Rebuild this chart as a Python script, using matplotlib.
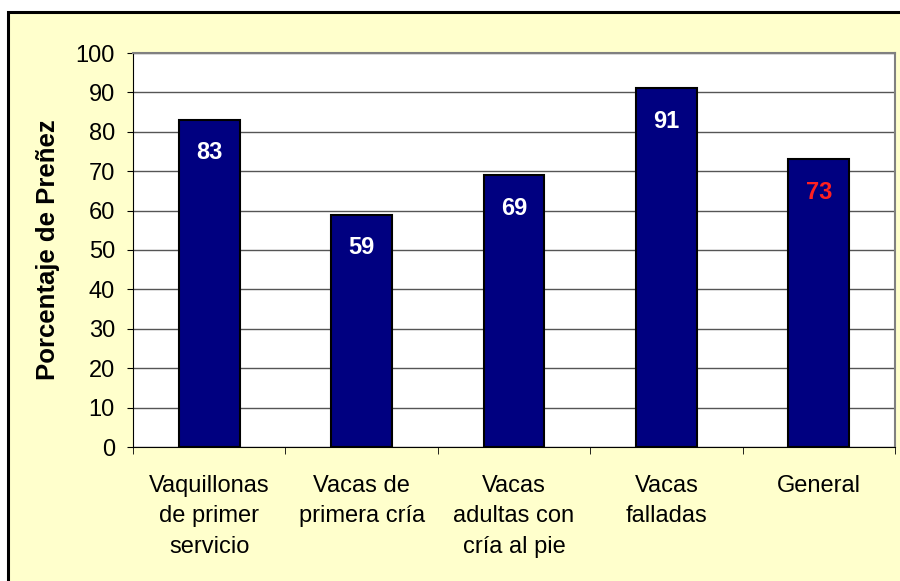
import matplotlib.pyplot as plt
from matplotlib.patches import Rectangle

plt.rcParams['font.family'] = ['Liberation Sans', 'DejaVu Sans']

categorias = ["Vaquillonas\nde primer\nservicio", "Vacas de\nprimera cría",
              "Vacas\nadultas con\ncría al pie", "Vacas\nfalladas", "General"]
prenez = [83, 59, 69, 91, 73]
colores_etiqueta = ["white", "white", "white", "white", "#FF2020"]

fig = plt.figure(figsize=(9, 5.81), dpi=100)
fig.patch.set_facecolor("white")
# fondo amarillo del area del grafico con borde negro
fondo = Rectangle((8 / 900, -0.01), 1.0, 1 - 12 / 581 + 0.01,
                  transform=fig.transFigure, facecolor="#FFFFCC",
                  edgecolor="black", linewidth=2.2, zorder=-10)
fig.add_artist(fondo)

ax = fig.add_axes([133 / 900, 1 - 447 / 581, 762 / 900, 394 / 581])
ax.set_zorder(1)
ax.set_facecolor("white")

x = range(len(categorias))
ax.bar(x, prenez, width=0.4, color="#000080", edgecolor="black", linewidth=1.5, zorder=3)

for i, v in enumerate(prenez):
    ax.annotate(str(v), (i, v), xytext=(0, -33), textcoords="offset pixels",
                ha="center", va="center", color=colores_etiqueta[i],
                fontsize=17, fontweight="bold", zorder=4)

ax.set_ylim(0, 100)
ax.set_xlim(-0.5, len(categorias) - 0.5)
ax.set_yticks(range(0, 101, 10))
ax.tick_params(axis="y", labelsize=17, length=4.5, pad=8.5, direction="out")
ax.yaxis.grid(True, color="#555555", linewidth=1, zorder=1)
ax.set_axisbelow(True)

ax.set_xticks(x)
ax.set_xticklabels(categorias, fontsize=17, linespacing=1.5)
ax.tick_params(axis="x", length=0, pad=20)
ax.set_xticks([i - 0.5 for i in range(len(categorias) + 1)], minor=True)
ax.tick_params(axis="x", which="minor", length=5, direction="out")

for s in ["top", "right"]:
    ax.spines[s].set_color("#808080")
    ax.spines[s].set_linewidth(1.5)
ax.spines["left"].set_color("black")
ax.spines["bottom"].set_color("black")

ax.set_ylabel("Porcentaje de Preñez", fontsize=18.5, fontweight="bold")
ax.yaxis.set_label_coords(-0.096, 0.5)

plt.savefig("out.png", dpi=100)
